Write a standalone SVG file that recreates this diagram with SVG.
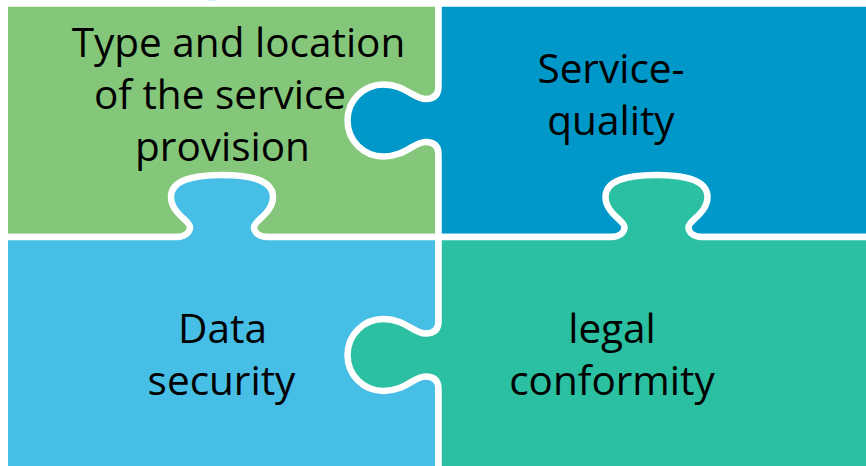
<svg xmlns="http://www.w3.org/2000/svg" width="866" height="466" viewBox="0 0 866 466">
<style>
.piece{stroke:#fff;stroke-width:6.5;stroke-linejoin:round}
.green{fill:#84C77A}
.blue{fill:#0098C9}
.lblue{fill:#46BEE6}
.teal{fill:#2BC0A1}
.lbl{font-family:"Open Sans","Noto Sans",sans-serif;font-size:40.5px;fill:#000;text-anchor:middle}
</style>
<rect width="866" height="466" fill="#fff"/>
<ellipse cx="212" cy="0" rx="3.5" ry="2" class="lblue"/>
<g id="type-location">
<path class="piece green" d="M4.75,3.5 H438.5 V237 H4.75 Z"/>
<text class="lbl" x="238.5" y="56.5">Type and location</text>
<text class="lbl" x="220" y="108.5">of the service</text>
<text class="lbl" x="222.5" y="160.5">provision</text>
</g>
<g id="service-quality">
<path class="piece blue" d="M438.5,3.5 H870 V237 H438.5 V154.5 C438.5,146.5 434.5,142 425.5,142 C413.5,142 405.5,156.5 383.5,156.5 C363.5,156.5 347.5,140.5 347.5,120.5 C347.5,100.5 363.5,84.5 383.5,84.5 C405.5,84.5 413.5,99 425.5,99 C434.5,99 438.5,94.5 438.5,86.5 Z"/>
<text class="lbl" x="611" y="83">Service-</text>
<text class="lbl" x="611" y="135">quality</text>
</g>
<g id="data-security">
<path class="piece lblue" d="M4.75,237 H177 C184,237 190,233 190,227 C190,221 171,213 171,197 C171,181 192,175 222,175 C252,175 273,181 273,197 C273,213 254,221 254,227 C254,233 260,237 267,237 H438.5 V470 H4.75 Z"/>
<text class="lbl" x="222.5" y="343">Data</text>
<text class="lbl" x="221.5" y="394.5">security</text>
</g>
<g id="legal-conformity">
<path class="piece teal" d="M438.5,237 H611.5 C618.5,237 624.5,233 624.5,227 C624.5,221 605.5,213 605.5,197 C605.5,181 626.5,175 656.5,175 C686.5,175 707.5,181 707.5,197 C707.5,213 688.5,221 688.5,227 C688.5,233 694.5,237 701.5,237 H870 V470 H438.5 V389 C438.5,381 434.5,376.5 425.5,376.5 C413.5,376.5 405.5,391 383.5,391 C363.5,391 347.5,375 347.5,355 C347.5,335 363.5,319 383.5,319 C405.5,319 413.5,333.5 425.5,333.5 C434.5,333.5 438.5,329 438.5,321 Z"/>
<text class="lbl" x="612" y="343">legal</text>
<text class="lbl" x="612" y="394.5">conformity</text>
</g>
<g id="connectors"/>
</svg>
